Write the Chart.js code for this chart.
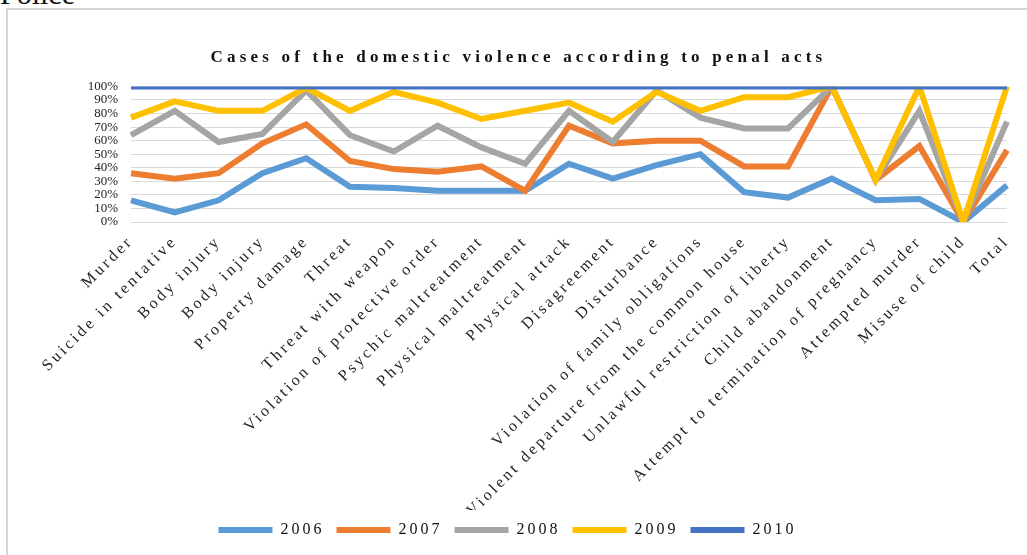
<!DOCTYPE html>
<html>
<head>
<meta charset="utf-8">
<script src="https://cdn.jsdelivr.net/npm/chart.js@4.4.1/dist/chart.umd.min.js"></script>
<style>
  html, body { margin: 0; padding: 0; background: #fff; overflow: hidden; }
  #police { position: absolute; left: 0; top: -23px; font: 30px 'Liberation Serif', serif; color: #111; }
  #frame { position: absolute; left: 6px; top: 8px; width: 1100px; height: 600px;
           border-top: 2px solid #d4d4d4; border-left: 2px solid #d4d4d4; }
  #wrap { position: absolute; left: 8px; top: 10px; width: 1019px; height: 545px; }
</style>
</head>
<body>
<div id="police">Police</div>
<div id="frame"></div>
<div id="wrap"><canvas id="chart"></canvas></div>
<script>
// categories (penal acts)
const acts = [
  'Murder', 'Suicide in tentative', 'Body injury', 'Body injury', 'Property damage',
  'Threat', 'Threat with weapon', 'Violation of protective order', 'Psychic maltreatment',
  'Physical maltreatment', 'Physical attack', 'Disagreement', 'Disturbance',
  'Violation of family obligations', 'Violent departure from the common house',
  'Unlawful restriction of liberty', 'Child abandonment',
  'Attempt to termination of pregnancy', 'Attempted murder', 'Misuse of child', 'Total'
];

// cumulative shares in % (100% stacked lines)
const y2006 = [16, 7, 16, 36, 47, 26, 25, 23, 23, 23, 43, 32, 42, 50, 22, 18, 32, 16, 17, 0, 27];
const y2007 = [36, 32, 36, 58, 72, 45, 39, 37, 41, 23, 71, 58, 60, 60, 41, 41, 100, 31, 56, 0, 53];
const y2008 = [64, 82, 59, 65, 97, 64, 52, 71, 55, 43, 82, 59, 97, 77, 69, 69, 100, 31, 82, 0, 74];
const y2009 = [77, 89, 82, 82, 99, 82, 96, 88, 76, 82, 88, 74, 96, 82, 92, 92, 100, 31, 100, 0, 100];
const y2010 = [100, 100, 100, 100, 100, 100, 100, 100, 100, 100, 100, 100, 100, 100, 100, 100, 100, 100, 100, 100, 100];

const years = ['2006', '2007', '2008', '2009', '2010'];
const series = [y2006, y2007, y2008, y2009, y2010];
const colors = ['#5b9bd5', '#ed7d31', '#a5a5a5', '#ffc000', '#4472c4'];

const serif = "'Liberation Serif', 'Times New Roman', serif";

// the source picture has spaced-out lettering
const spacing = {
  id: 'spacing',
  beforeLayout(chart) { chart.ctx.letterSpacing = '3px'; },
  beforeDraw(chart) { chart.ctx.letterSpacing = '3px'; }
};

// per-box spacing (and a small nudge for the title)
function spaced(obj, fn, px, dx) {
  const orig = obj[fn].bind(obj);
  obj[fn] = function (...args) {
    const ctx = obj.ctx || obj.chart.ctx;
    ctx.save();
    ctx.letterSpacing = px;
    if (dx) ctx.translate(dx, 0);
    const r = orig(...args);
    ctx.restore();
    return r;
  };
}

const chart = new Chart(document.getElementById('chart'), {
  type: 'line',
  data: {
    labels: acts,
    datasets: series.map((s, i) => ({
      label: years[i],
      data: s,
      borderColor: colors[i],
      backgroundColor: colors[i],
      borderWidth: 6,
      pointRadius: 0,
      tension: 0,
      fill: false,
      order: 5 - i
    }))
  },
  options: {
    responsive: true,
    maintainAspectRatio: false,
    animation: false,
    layout: { padding: { left: 0, right: 20, top: 0, bottom: 7 } },
    plugins: {
      title: {
        display: true,
        text: 'Cases of the domestic violence according to penal acts',
        color: '#111',
        font: { family: serif, size: 17, weight: 'bold', lineHeight: 1.2 },
        padding: { top: 37, bottom: 19 }
      },
      legend: {
        position: 'bottom',
        labels: {
          usePointStyle: true,
          pointStyle: 'line',
          pointStyleWidth: 54,
          padding: 12,
          color: '#111',
          font: { family: serif, size: 16 },
          sort: (a, b) => a.datasetIndex - b.datasetIndex
        }
      },
      tooltip: { enabled: false }
    },
    scales: {
      x: {
        offset: false,
        grid: { display: false },
        border: { display: false },
        ticks: {
          autoSkip: false,
          minRotation: 45,
          maxRotation: 45,
          padding: 2,
          color: '#222',
          font: { family: serif, size: 16 }
        },
        afterFit: (scale) => { scale.height = 288; }
      },
      y: {
        min: 0,
        max: 100,
        border: { display: false },
        grid: { color: '#d9d9d9', lineWidth: 1, drawTicks: false },
        ticks: {
          stepSize: 10,
          autoSkip: false,
          padding: 13,
          color: '#222',
          font: { family: serif, size: 13 },
          callback: (v) => v + '%'
        },
        afterFit: (scale) => { scale.width = 123; }
      }
    }
  },
  plugins: [spacing]
});

spaced(chart.titleBlock, 'draw', '4.2px', 11);
spaced(chart.scales.y, 'draw', '0px');
chart.update();
</script>
</body>
</html>
